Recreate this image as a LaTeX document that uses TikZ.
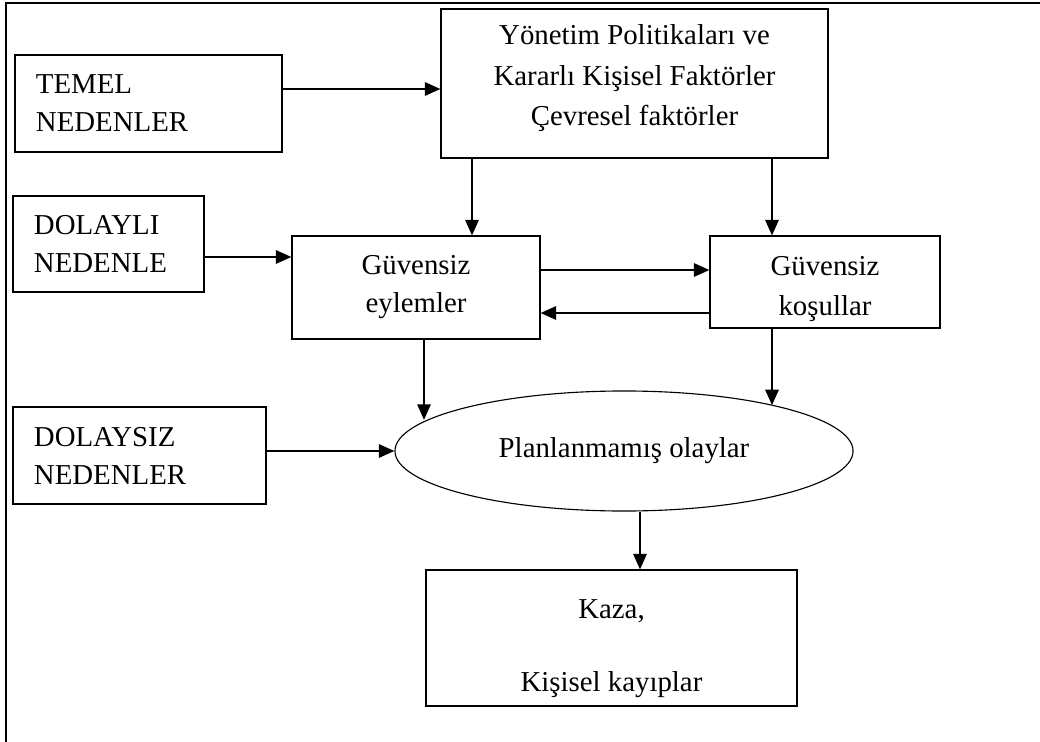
\documentclass[tikz,border=0pt]{standalone}
\usepackage{fontspec}
\setmainfont{Liberation Serif}
\usepackage{tikz}
\usetikzlibrary{shapes.geometric,arrows.meta,positioning}

\begin{document}
\begin{tikzpicture}[x=0.025cm, y=-0.025cm,
    every node/.style={font=\fontsize{20.5}{27}\selectfont},
    box/.style={rectangle, draw, line width=0.8pt, align=center, inner sep=0pt},
    leftbox/.style={rectangle, draw, line width=0.8pt, align=left, inner xsep=0.525cm, inner ysep=0pt},
    oval/.style={ellipse, draw, line width=0.8pt, inner sep=0pt, minimum width=11.45cm, minimum height=3cm},
    arrow/.style={line width=1.3pt, -{Triangle[length=11pt,width=9.5pt]}}]

    \useasboundingbox (0,0) rectangle (1040,742);
    \draw [line width=1.6pt] (6,742) -- (6,3) -- (1040,3);

    % Nodes
    \node [leftbox, text width=5.625cm, minimum height=2.425cm] (temel) at (148.5,103.5) {TEMEL\\NEDENLER};
    \node [box, minimum width=9.675cm, minimum height=3.725cm] (yonetim) at (634.5,83.5) {Yönetim Politikaları ve\\[1.5pt]Kararlı Kişisel Faktörler\\[1.5pt]Çevresel faktörler\rule[-12pt]{0pt}{12pt}};
    \node [leftbox, text width=3.725cm, minimum height=2.4cm] (dolayli) at (108.5,244) {DOLAYLI\\NEDENLE};
    \node [box, minimum width=6.2cm, minimum height=2.575cm] (eylem) at (416,287.5) {Güvensiz\\eylemler};
    \node [box, minimum width=5.75cm, minimum height=2.3cm] (kosul) at (825,282) {\rule{0pt}{23.5pt}Güvensiz\\[1.5pt]koşullar};
    \node [leftbox, text width=5.275cm, minimum height=2.425cm] (dolaysiz) at (139.5,455.5) {DOLAYSIZ\\NEDENLER};
    \node [oval] (olay) at (624,451) {Planlanmamış olaylar};
    \node [box, minimum width=9.275cm, minimum height=3.4cm] (kaza) at (611.5,638) {\rule{0pt}{29pt}Kaza,\\[25pt]Kişisel kayıplar};

    % Arrows
    \draw [arrow] (temel.east |- 0,89) -- (yonetim.west |- 0,89);
    \draw [arrow] (yonetim.south -| 472,0) -- (eylem.north -| 472,0);
    \draw [arrow] (yonetim.south -| 772,0) -- (kosul.north -| 772,0);
    \draw [arrow] (dolayli.east |- 0,257) -- (eylem.west |- 0,257);
    \draw [arrow] (eylem.east |- 0,270) -- (kosul.west |- 0,270);
    \draw [arrow] (kosul.west |- 0,313) -- (eylem.east |- 0,313);
    \draw [arrow] (eylem.south -| 424,0) -- (olay.171.7 -| 424,0);
    \draw [arrow] (kosul.south -| 772,0) -- (olay.17.2 -| 772,0);
    \draw [arrow] (dolaysiz.east |- olay.west) -- (olay.west);
    \draw [arrow] (olay.south -| 640,0) -- (kaza.north -| 640,0);

\end{tikzpicture}
\end{document}
